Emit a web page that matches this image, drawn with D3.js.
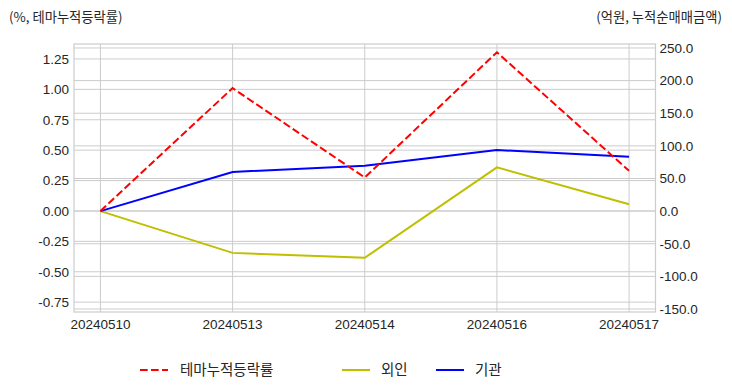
<!DOCTYPE html>
<html><head><meta charset="utf-8">
<script src="https://cdn.jsdelivr.net/npm/d3@7"></script>
<style>
body{margin:0;background:#fff;}
svg text{font-family:"Liberation Sans",Arial,sans-serif;}
.kr{font-family:"Noto Sans CJK KR","Liberation Sans",sans-serif;}
</style></head>
<body><svg id="c" width="732" height="392"></svg>
<script>
const dates = ["20240510","20240513","20240514","20240516","20240517"];
const themeRate = [0, 1.01, 0.275, 1.305, 0.33];
const foreign = [0, -64, -71.5, 67, 10.5];
const institution = [0, 60, 69.5, 93.6, 83.5];
const leftTicks = [1.25,1.0,0.75,0.5,0.25,0,-0.25,-0.5,-0.75];
const rightTicks = [250,200,150,100,50,0,-50,-100,-150];
const names = ["테마누적등락률","외인","기관"];

const svg = d3.select("#c");
const L=74,R=655.5,T=44,B=312;
const x = d3.scalePoint().domain(dates).range([L,R]).padding(0.2);
const yL = d3.scaleLinear().domain([-0.831,1.373]).range([B,T]);
const yR = d3.scaleLinear().domain([-154.6,256.1]).range([B,T]);
const grid="#cccccc", txt="#262626";

const g = svg.append("g");
g.selectAll(".gl").data(leftTicks).join("line").attr("x1",L).attr("x2",R)
 .attr("y1",d=>yL(d)).attr("y2",d=>yL(d)).attr("stroke",grid).attr("stroke-width",1);
g.selectAll(".gr").data(rightTicks).join("line").attr("x1",L).attr("x2",R)
 .attr("y1",d=>yR(d)).attr("y2",d=>yR(d)).attr("stroke",grid).attr("stroke-width",1);
g.selectAll(".gx").data(dates).join("line").attr("y1",T).attr("y2",B)
 .attr("x1",d=>x(d)).attr("x2",d=>x(d)).attr("stroke",grid).attr("stroke-width",1);
g.append("rect").attr("x",L).attr("y",T).attr("width",R-L).attr("height",B-T)
 .attr("fill","none").attr("stroke",grid).attr("stroke-width",1.2);

const fs=13.5;
g.selectAll(".tl").data(leftTicks).join("text").attr("x",L-5).attr("y",d=>yL(d)).attr("dy","0.36em")
 .attr("text-anchor","end").attr("font-size",fs).attr("fill",txt).text(d=>d.toFixed(2));
g.selectAll(".tr").data(rightTicks).join("text").attr("x",R+4).attr("y",d=>yR(d)).attr("dy","0.36em")
 .attr("text-anchor","start").attr("font-size",fs).attr("fill",txt).text(d=>d.toFixed(1));
g.selectAll(".tx").data(dates).join("text").attr("x",d=>x(d)).attr("y",B+12).attr("dy","0.36em")
 .attr("text-anchor","middle").attr("font-size",fs).attr("fill",txt).text(d=>d);

svg.append("text").attr("class","kr").attr("x",9).attr("y",17).attr("dy","0.36em")
 .attr("font-size",13.3).attr("fill",txt).text("(%, 테마누적등락률)");
svg.append("text").attr("class","kr").attr("x",722).attr("y",17).attr("dy","0.36em")
 .attr("text-anchor","end").attr("font-size",13.3).attr("fill",txt).text("(억원, 누적순매매금액)");

const lineL = d3.line().x((d,i)=>x(dates[i])).y(d=>yL(d));
const lineR = d3.line().x((d,i)=>x(dates[i])).y(d=>yR(d));
const colors=["#ff0000","#bfbf00","#0000ff"];
svg.append("path").attr("d",lineR(foreign)).attr("fill","none").attr("stroke",colors[1]).attr("stroke-width",2);
svg.append("path").attr("d",lineR(institution)).attr("fill","none").attr("stroke",colors[2]).attr("stroke-width",2);
svg.append("path").attr("d",lineL(themeRate)).attr("fill","none").attr("stroke",colors[0]).attr("stroke-width",2)
 .attr("stroke-dasharray","7.7,3.3");

const leg=[{x:140,tx:180,dash:true},{x:342,tx:381},{x:436,tx:475}];
leg.forEach((l,i)=>{
  svg.append("line").attr("x1",l.x).attr("x2",l.x+28).attr("y1",370).attr("y2",370)
   .attr("stroke",colors[i]).attr("stroke-width",2).attr("stroke-dasharray",l.dash?"7.7,3.3":null);
  svg.append("text").attr("class","kr").attr("x",l.tx).attr("y",370).attr("dy","0.36em")
   .attr("font-size",14.5).attr("fill",txt).text(names[i]);
});
</script></body></html>
